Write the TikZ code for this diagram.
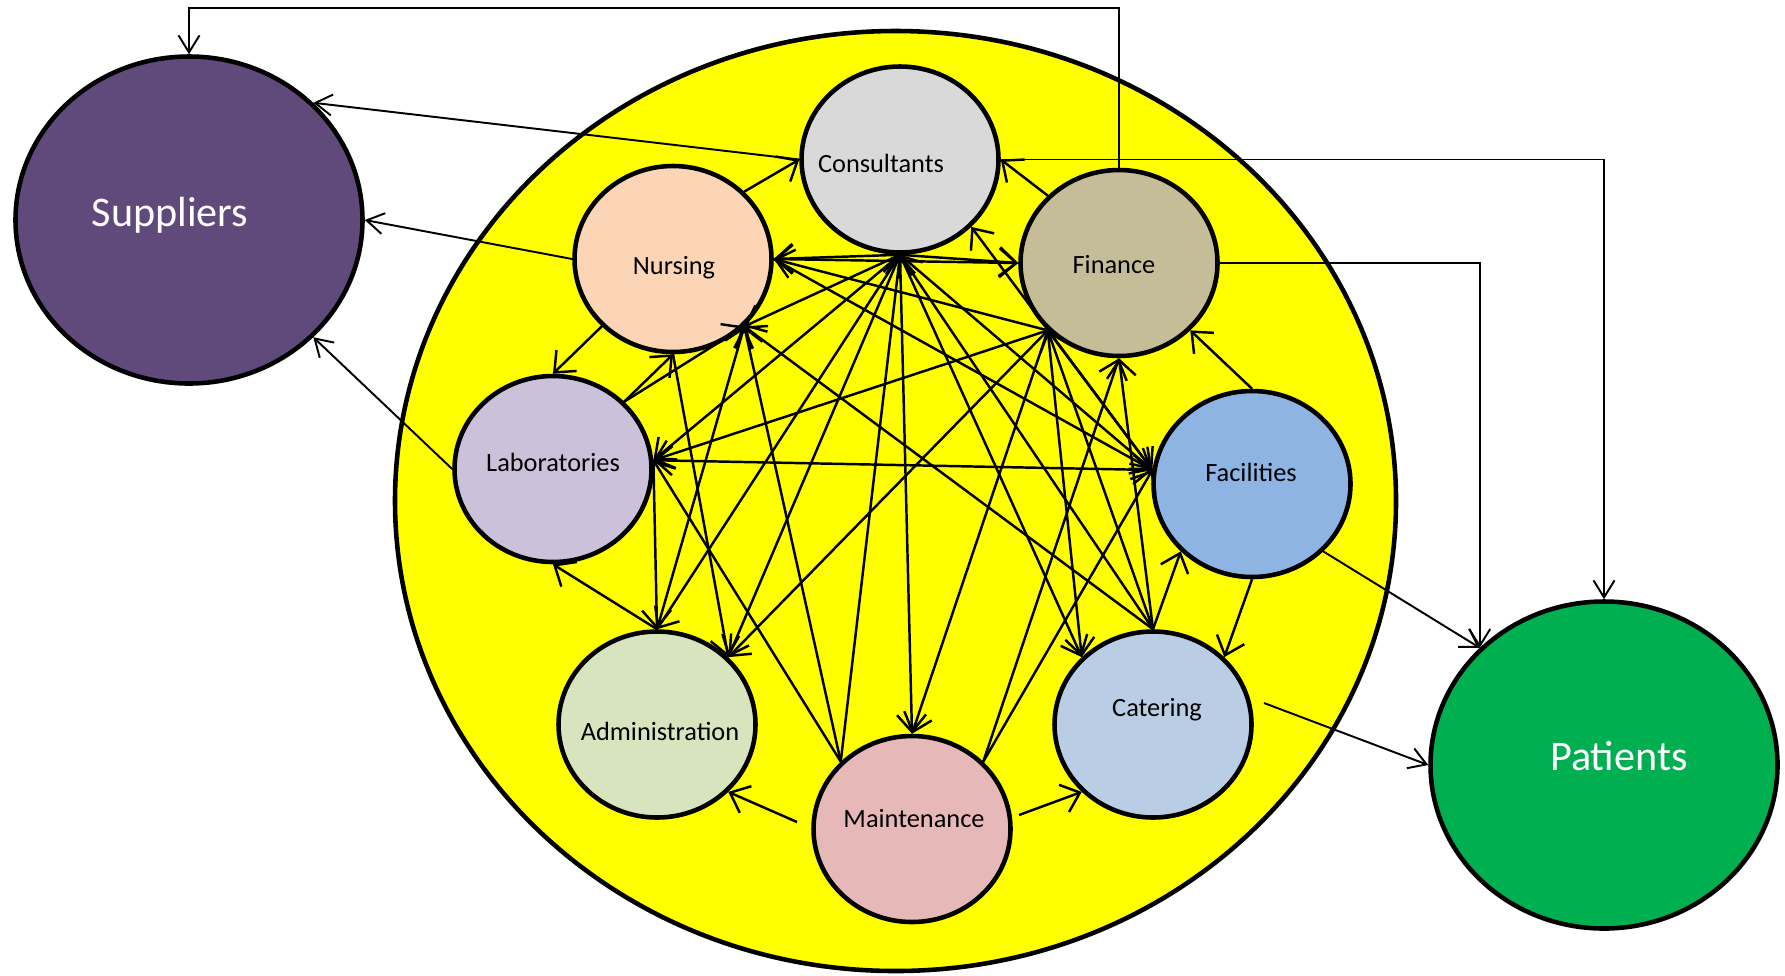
\documentclass[tikz,border=0pt]{standalone}
\usepackage{fontspec}
\setmainfont{Carlito}
\usetikzlibrary{shapes.geometric,arrows.meta}

\definecolor{hospcol}{HTML}{FFFF00}
\definecolor{supcol}{HTML}{604A7B}
\definecolor{patcol}{HTML}{00B050}
\definecolor{conscol}{HTML}{D9D9D9}
\definecolor{nurcol}{HTML}{FBD5B5}
\definecolor{fincol}{HTML}{C4BD97}
\definecolor{labcol}{HTML}{CCC1DA}
\definecolor{faccol}{HTML}{8EB4E3}
\definecolor{admcol}{HTML}{D7E4BD}
\definecolor{catcol}{HTML}{B9CDE5}
\definecolor{maicol}{HTML}{E6B9B8}

\begin{document}
\begin{tikzpicture}[>={Straight Barb[length=1.7mm,width=2.9mm]},
		dept/.style={ellipse,draw,line width=1.3pt,minimum width=1.97cm,minimum height=1.86cm,inner sep=0pt},
		party/.style={ellipse,draw,line width=1.3pt,minimum width=3.47cm,minimum height=3.27cm,inner sep=0pt},
		lbl/.style={font=\fontsize{7.5}{9}\selectfont,text height=1.5ex,text depth=.25ex,inner sep=0pt},
		biglbl/.style={font=\fontsize{12}{14}\selectfont,text=white,text height=1.5ex,text depth=.25ex,inner sep=0pt},
		link/.style={line width=0.7pt},
		ext/.style={line width=0.55pt,>={Straight Barb[length=1.7mm,width=2.1mm]}}]
		\useasboundingbox (0,0) rectangle (17.85,-9.75);

		\node[ellipse,draw,line width=1.3pt,fill=hospcol,minimum width=10.01cm,minimum height=9.40cm] (hosp) at (8.955,-5.01) {};

		\node[party,fill=supcol] (sup) at (1.89,-2.20) {};
		\node[party,fill=patcol] (pat) at (16.04,-7.65) {};

		\node[dept,fill=conscol] (cons) at (9.00,-1.595) {};
		\node[dept,fill=fincol] (fin) at (11.19,-2.63) {};
		\node[dept,fill=nurcol] (nur) at (6.73,-2.59) {};
		\node[dept,fill=labcol] (lab) at (5.53,-4.69) {};
		\node[dept,fill=faccol] (fac) at (12.52,-4.84) {};
		\node[dept,fill=admcol] (adm) at (6.57,-7.245) {};
		\node[dept,fill=catcol] (cat) at (11.53,-7.245) {};
		\node[dept,fill=maicol] (mai) at (9.12,-8.29) {};

		\coordinate (mai-l) at (7.97,-8.22);
		\coordinate (mai-r) at (10.19,-8.15);
		\coordinate (cat-out) at (12.64,-7.03);

		\path[link,->] (nur.north east) edge (cons.west)
				  (fin.north west) edge (cons.east)
				  (nur.east) edge[<->] (fin.west)
				  (cons.south) edge (nur.east)
				  (cons.south) edge (fin.west)
				  (nur.south west) edge (lab.north)
				  (lab.north east) edge (nur.south)
				  (lab.north east) edge (nur.south east)
				  (cons.south) edge (nur.south east)
				  (fin.south west) edge (nur.east)
				  (cons.south) edge (lab.5)
				  (fin.south west) edge (lab.5)
				  (lab.5) edge[<->] (fac.172)
				  (lab.5) edge (adm.north)
				  (mai.north west) edge (lab.5)
				  (mai.north west) edge (nur.south east)
				  (mai.north west) edge (cons.south)
				  (adm.north) edge (lab.south)
				  (adm.north) edge (nur.south east)
				  (cons.south) edge (adm.north)
				  (cons.south) edge (adm.north east)
				  (nur.south) edge (adm.north east)
				  (fin.south west) edge (adm.north east)
				  (cons.south) edge[<->] (mai.north)
				  (fin.south west) edge (mai.north)
				  (cons.south) edge (cat.north west)
				  (fin.south west) edge (cat.north west)
				  (cat.north) edge (cons.south)
				  (cat.north) edge (nur.south east)
				  (cat.north) edge (fin.south)
				  (cat.north) edge (fin.south west)
				  (mai.north east) edge (fin.south)
				  (mai.north east) edge (fac.172)
				  (cons.south) edge (fac.172)
				  (nur.east) edge (fac.172)
				  (fin.south west) edge (fac.172)
				  (fac.172) edge (cons.south east)
				  (fac.north) edge (fin.south east)
				  (fac.south) edge (cat.north east)
				  (cat.north) edge (fac.south west)
				  (mai-l) edge (adm.south east)
				  (mai-r) edge (cat.south west);

		\path[ext,->] (cons.west) edge (sup.north east)
				  (nur.west) edge (sup.east)
				  (lab.west) edge (sup.south east)
				  (fac.south east) edge (pat.north west)
				  (cat-out) edge (pat.west);
		\draw[ext,->] (fin.north) -- ++(0,1.60) -| (sup.north);
		\draw[ext,->] (cons.east) -| (pat.north);
		\draw[ext,->] (fin.east) -| (pat.north west);

		\node[biglbl] (sup-t) at (1.70,-2.16) {Suppliers};
		\node[biglbl] (pat-t) at (16.19,-7.60) {Patients};
		\node[lbl] (cons-t) at (8.81,-1.62) {Consultants};
		\node[lbl] (fin-t) at (11.14,-2.63) {Finance};
		\node[lbl] (nur-t) at (6.74,-2.64) {Nursing};
		\node[lbl] (lab-t) at (5.53,-4.61) {Laboratories};
		\node[lbl] (fac-t) at (12.51,-4.71) {Facilities};
		\node[lbl] (adm-t) at (6.60,-7.30) {Administration};
		\node[lbl] (cat-t) at (11.57,-7.06) {Catering};
		\node[lbl] (mai-t) at (9.14,-8.17) {Maintenance};
	\end{tikzpicture}
\end{document}
